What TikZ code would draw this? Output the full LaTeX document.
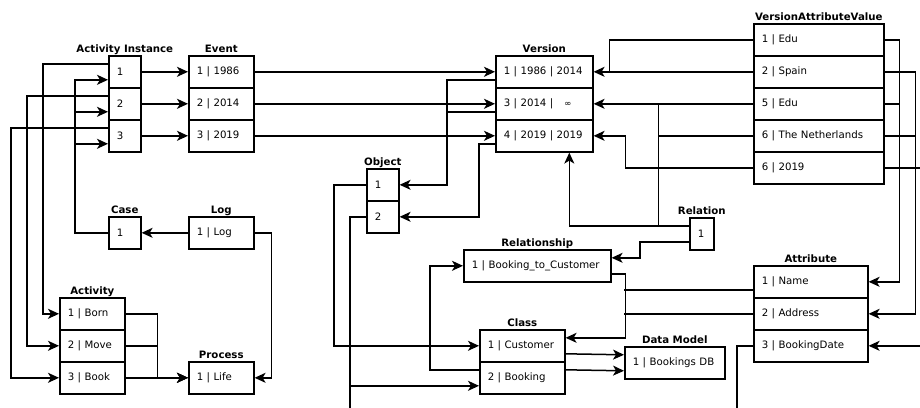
\documentclass[tikz,border=0pt]{standalone}
\usepackage{fontspec}
\setmainfont{DejaVu Sans}
\usetikzlibrary{arrows.meta}

\tikzset{
  cell/.style={draw, line width=1.6pt, anchor=north west, minimum height=32pt,
    inner xsep=8pt, text width=#1, align=left, font=\fontsize{10.2}{12}\selectfont},
  title/.style={anchor=base, inner sep=0pt, font=\fontsize{10.2}{12}\selectfont\bfseries},
  arr/.style={-{Stealth[length=11pt,width=10pt,inset=3pt]}}
}

\begin{document}
\begin{tikzpicture}[x=1pt, y=-1pt, line width=1.5pt]
  \useasboundingbox (0,0) rectangle (920,407);
  \clip (0,0) rectangle (920,407);
  % tables
  \node[cell=16pt] (ai1) at (108,55) {1};
  \node[cell=16pt] (ai2) at (108,87) {2};
  \node[cell=16pt] (ai3) at (108,119) {3};
  \node[title] (aititle) at ([yshift=2.5pt]ai1.north) {Activity Instance};
  \node[cell=49pt] (ev1) at (188,55) {1 | 1986};
  \node[cell=49pt] (ev2) at (188,87) {2 | 2014};
  \node[cell=49pt] (ev3) at (188,119) {3 | 2019};
  \node[title] (evtitle) at ([yshift=2.5pt]ev1.north) {Event};
  \node[cell=81pt] (ver1) at (495,55) {1 | 1986 | 2014};
  \node[cell=81pt] (ver2) at (495,87) {3 | 2014 |\hspace{11pt}{\fontsize{8.5}{9}\selectfont ∞}};
  \node[cell=81pt] (ver3) at (495,119) {4 | 2019 | 2019};
  \node[title] (vertitle) at ([yshift=2.5pt]ver1.north) {Version};
  \node[cell=114pt] (vav1) at (753,23) {1 | Edu};
  \node[cell=114pt] (vav2) at (753,55) {2 | Spain};
  \node[cell=114pt] (vav3) at (753,87) {5 | Edu};
  \node[cell=114pt] (vav4) at (753,119) {6 | The Netherlands};
  \node[cell=114pt] (vav5) at (753,151) {6 | 2019};
  \node[title] (vavtitle) at ([yshift=2.5pt]vav1.north) {VersionAttributeValue};
  \node[cell=16pt] (case1) at (108,216) {1};
  \node[title] (casetitle) at ([yshift=2.5pt]case1.north) {Case};
  \node[cell=49pt] (log1) at (188,216) {1 | Log};
  \node[title] (logtitle) at ([yshift=2.5pt]log1.north) {Log};
  \node[cell=49pt] (act1) at (59,297) {1 | Born};
  \node[cell=49pt] (act2) at (59,329) {2 | Move};
  \node[cell=49pt] (act3) at (59,361) {3 | Book};
  \node[title] (acttitle) at ([yshift=2.5pt]act1.north) {Activity};
  \node[cell=49pt] (proc1) at (188,361) {1 | Life};
  \node[title] (proctitle) at ([yshift=2.5pt]proc1.north) {Process};
  \node[cell=16pt] (obj1) at (366,168) {1};
  \node[cell=16pt] (obj2) at (366,200) {2};
  \node[title] (objtitle) at ([yshift=2.5pt]obj1.north) {Object};
  \node[cell=131pt] (relsh) at (463,249) {1 | Booking\_to\_Customer};
  \node[title] (relshtitle) at ([yshift=2.5pt]relsh.north) {Relationship};
  \node[cell=69pt] (cls1) at (479,329) {1 | Customer};
  \node[cell=69pt] (cls2) at (479,361) {2 | Booking};
  \node[title] (clstitle) at ([yshift=2.5pt]cls1.north) {Class};
  \node[cell=84pt] (dm1) at (624,346) {1 | Bookings DB};
  \node[title] (dmtitle) at ([yshift=2.5pt]dm1.north) {Data Model};
  \node[cell=8pt] (relat1) at (689,217) {1};
  \node[title] (relattitle) at ([yshift=2.5pt]relat1.north) {Relation};
  \node[cell=98pt] (att1) at (753,265) {1 | Name};
  \node[cell=98pt] (att2) at (753,297) {2 | Address};
  \node[cell=98pt] (att3) at (753,329) {3 | BookingDate};
  \node[title] (atttitle) at ([yshift=2.5pt]att1.north) {Attribute};

  % left part
  \draw[arr] (ai1.east) -- (ev1.west);
  \draw[arr] (ai2.east) -- (ev2.west);
  \draw[arr] (ai3.east) -- (ev3.west);
  \draw[arr] (ev1.east) -- (ver1.west);
  \draw[arr] (ev2.east) -- (ver2.west);
  \draw[arr] (ev3.east) -- (ver3.west);
  \draw[arr] ([yshift=8pt]ai1.west) -- ++(-65,0) |- (act1.west);
  \draw[arr] ([yshift=8pt]ai2.west) -- ++(-81,0) |- (act2.west);
  \draw[arr] ([yshift=8pt]ai3.west) -- ++(-97,0) |- (act3.west);
  \draw[arr] (case1.west) -- ++(-33,0) |- ([yshift=-8pt]ai1.west);
  \draw[arr] ([xshift=-33pt]case1.west) |- ([yshift=-8pt]ai2.west);
  \draw[arr] ([xshift=-33pt]case1.west) |- ([yshift=-8pt]ai3.west);
  \draw[arr] (log1.west) -- (case1.east);
  \draw[arr] (log1.east) -- ++(17,0) |- (proc1.east);
  \draw[arr] (act1.east) -- ++(32,0) |- (proc1.west);
  \draw[arr] (act2.east) -- ++(32,0) |- (proc1.west);
  \draw[arr] (act3.east) -- (proc1.west);

  % versions and values
  \draw[arr] (vav2.west) -- (ver1.east);
  \draw (vav1.west) -| ([xshift=16pt]ver1.east);
  \draw[arr] (vav3.west) -- (ver2.east);
  \draw (vav4.west) -| ([xshift=65pt]ver2.east);
  \draw[arr] (vav5.west) -| ([xshift=32pt]ver3.east) -- (ver3.east);
  \draw[arr] ([yshift=8pt]relat1.west) -| ([xshift=25pt]ver3.south);
  \draw ([yshift=8pt]relat1.west) -| ([xshift=65pt]ver2.east);
  \draw[arr] ([yshift=-8pt]relat1.west) -- ++(-49,0) |- ([yshift=8pt]relsh.east);
  \draw[arr] (vav1.east) -- ++(15,0) |- (att1.east);
  \draw (vav3.east) -- ++(15,0);
  \draw[arr] (vav2.east) -- ++(31,0) |- (att2.east);
  \draw (vav4.east) -- ++(31,0);
  \draw[arr] (vav5.east) -- ++(50,0) |- (att3.east);

  % objects and classes
  \draw[arr] ([yshift=-8pt]ver1.west) -- ++(-48,0) |- (obj1.east);
  \draw ([yshift=-8pt]ver2.west) -- ++(-48,0);
  \draw[arr] ([yshift=-8pt]ver3.west) -- ++(-16,0) |- (obj2.east);
  \draw[arr] (obj1.west) -- ++(-32,0) |- (cls1.west);
  \draw (obj2.west) -- ++(-16,0) -- ++(0,220);
  \draw[arr] ([xshift=-16pt]obj2.west) |- ([yshift=-8pt]cls2.west);
  \draw[arr] ([yshift=8pt]cls2.west) -- ++(-49,0) |- (relsh.west);
  \draw[arr] ([yshift=-8pt]relsh.east) -- ++(14,0) |- ([yshift=8pt]cls1.east);
  \draw ([yshift=-8pt]att1.west) -- ++(-129,0);
  \draw (att2.west) -- ++(-129,0);
  \draw[arr] ([yshift=-8pt]cls1.east) -- ([yshift=8pt]dm1.west);
  \draw[arr] ([yshift=8pt]cls2.east) -- ([yshift=-8pt]dm1.west);
  \draw (att3.west) -- ++(-16,0) -- ++(0,80);
\end{tikzpicture}
\end{document}
